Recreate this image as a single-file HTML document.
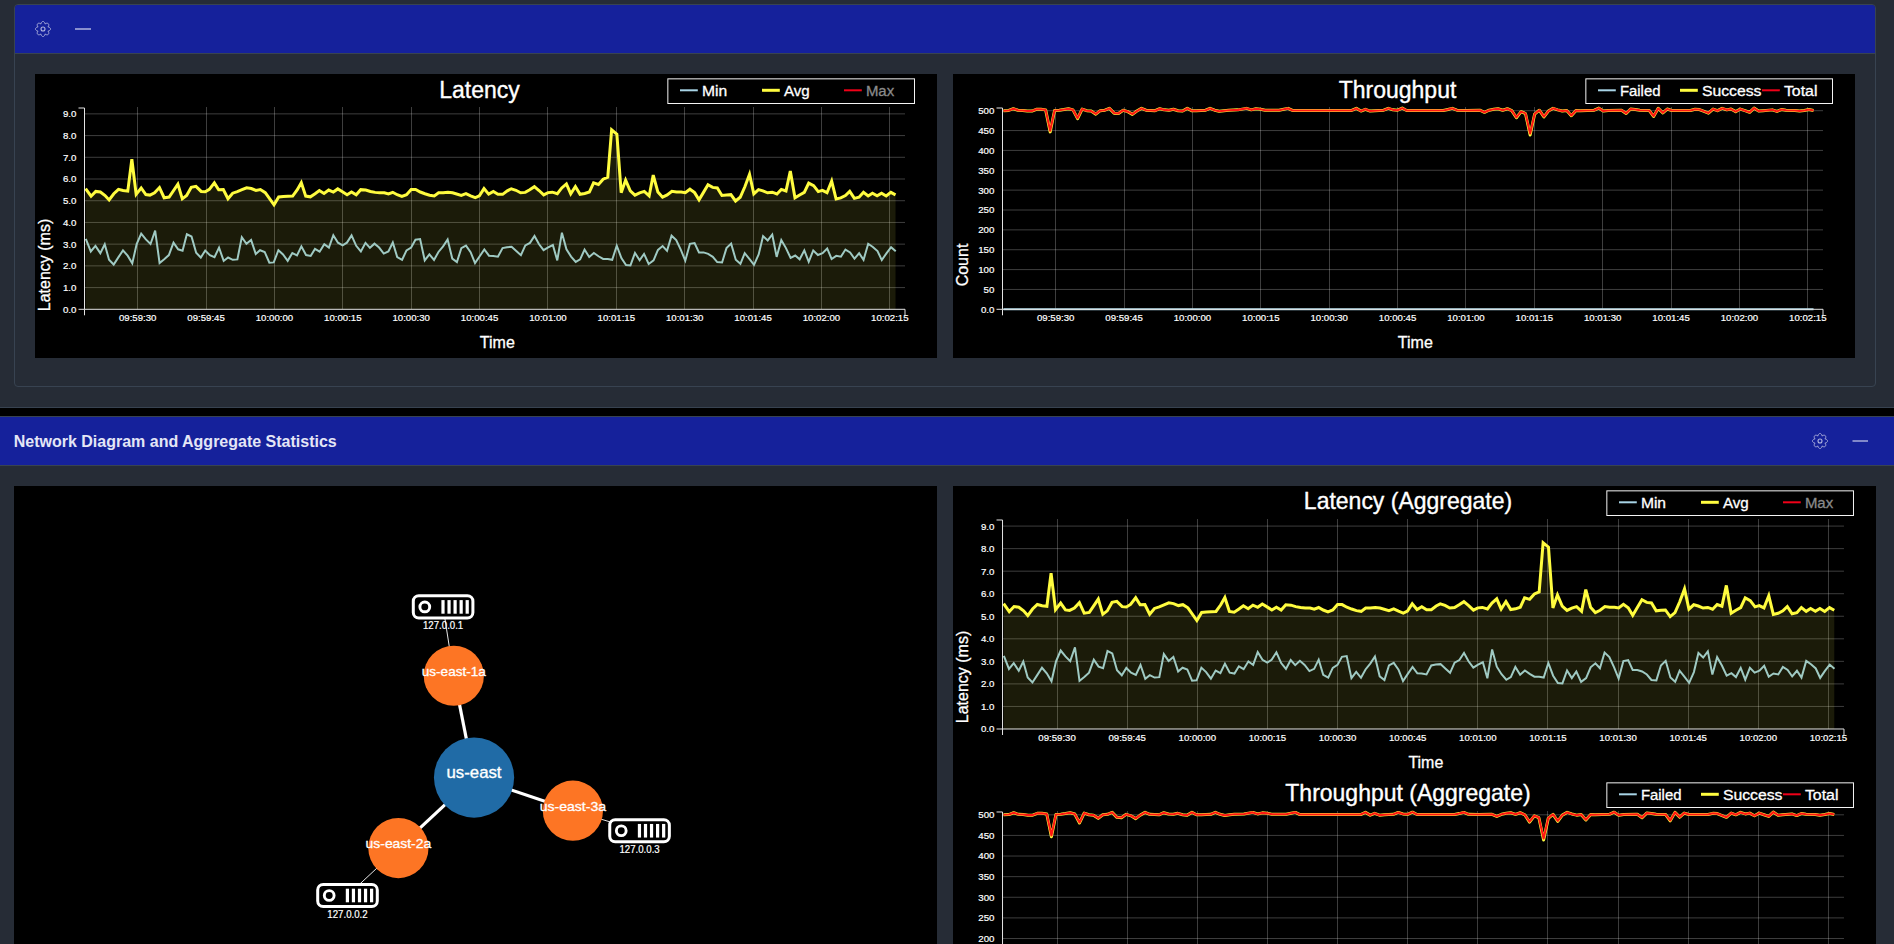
<!DOCTYPE html>
<html lang="en"><head><meta charset="utf-8"><title>Network Diagram and Aggregate Statistics</title>
<style>
html,body{margin:0;padding:0;background:#000;}
body{width:1894px;height:944px;overflow:hidden;position:relative;font-family:'Liberation Sans', Arial, Helvetica, sans-serif;color:#e6e8f7;}
.abs{position:absolute;box-sizing:border-box;}
.outer1{left:-2px;top:-2px;width:1898px;height:410px;background:#262c36;border:1px solid #384351;}
.inner{left:14px;top:4px;width:1862px;height:383px;border:1px solid #384351;border-radius:4px;background:#262c36;overflow:hidden;}
.hdr{left:0;top:0;width:100%;height:49px;background:#15219b;border-bottom:1px solid #384351;}
.hdr2{left:-2px;top:416px;width:1898px;height:50px;background:#15219b;border:1px solid #384351;}
.content2{left:-2px;top:466px;width:1898px;height:480px;background:#262c36;}
.title{left:14.7px;top:1px;height:48px;line-height:48px;font-size:16px;font-weight:bold;color:#e4e6f6;white-space:nowrap;letter-spacing:0;}
</style></head>
<body>
<div class="abs outer1"></div>
<div class="abs inner"><div class="abs hdr"><svg width="120" height="48" style="position:absolute;left:0;top:0"><path d="M28,16.5 L28.29,16.53 L28.58,16.61 L28.86,16.76 L29.12,16.95 L29.35,17.19 L29.56,17.48 L29.74,17.82 L29.89,18.19 L29.99,18.6 L30.03,19.1 L30.41,18.77 L30.77,18.56 L31.14,18.39 L31.5,18.29 L31.85,18.23 L32.2,18.23 L32.52,18.27 L32.81,18.37 L33.08,18.51 L33.3,18.7 L33.49,18.92 L33.63,19.19 L33.73,19.48 L33.77,19.8 L33.77,20.15 L33.71,20.5 L33.61,20.86 L33.44,21.23 L33.23,21.59 L32.9,21.97 L33.4,22.01 L33.81,22.11 L34.18,22.26 L34.52,22.44 L34.81,22.65 L35.05,22.88 L35.24,23.14 L35.39,23.42 L35.47,23.71 L35.5,24 L35.47,24.29 L35.39,24.58 L35.24,24.86 L35.05,25.12 L34.81,25.35 L34.52,25.56 L34.18,25.74 L33.81,25.89 L33.4,25.99 L32.9,26.03 L33.23,26.41 L33.44,26.77 L33.61,27.14 L33.71,27.5 L33.77,27.85 L33.77,28.2 L33.73,28.52 L33.63,28.81 L33.49,29.08 L33.3,29.3 L33.08,29.49 L32.81,29.63 L32.52,29.73 L32.2,29.77 L31.85,29.77 L31.5,29.71 L31.14,29.61 L30.77,29.44 L30.41,29.23 L30.03,28.9 L29.99,29.4 L29.89,29.81 L29.74,30.18 L29.56,30.52 L29.35,30.81 L29.12,31.05 L28.86,31.24 L28.58,31.39 L28.29,31.47 L28,31.5 L27.71,31.47 L27.42,31.39 L27.14,31.24 L26.88,31.05 L26.65,30.81 L26.44,30.52 L26.26,30.18 L26.11,29.81 L26.01,29.4 L25.97,28.9 L25.59,29.23 L25.23,29.44 L24.86,29.61 L24.5,29.71 L24.15,29.77 L23.8,29.77 L23.48,29.73 L23.19,29.63 L22.92,29.49 L22.7,29.3 L22.51,29.08 L22.37,28.81 L22.27,28.52 L22.23,28.2 L22.23,27.85 L22.29,27.5 L22.39,27.14 L22.56,26.77 L22.77,26.41 L23.1,26.03 L22.6,25.99 L22.19,25.89 L21.82,25.74 L21.48,25.56 L21.19,25.35 L20.95,25.12 L20.76,24.86 L20.61,24.58 L20.53,24.29 L20.5,24 L20.53,23.71 L20.61,23.42 L20.76,23.14 L20.95,22.88 L21.19,22.65 L21.48,22.44 L21.82,22.26 L22.19,22.11 L22.6,22.01 L23.1,21.97 L22.77,21.59 L22.56,21.23 L22.39,20.86 L22.29,20.5 L22.23,20.15 L22.23,19.8 L22.27,19.48 L22.37,19.19 L22.51,18.92 L22.7,18.7 L22.92,18.51 L23.19,18.37 L23.48,18.27 L23.8,18.23 L24.15,18.23 L24.5,18.29 L24.86,18.39 L25.23,18.56 L25.59,18.77 L25.97,19.1 L26.01,18.6 L26.11,18.19 L26.26,17.82 L26.44,17.48 L26.65,17.19 L26.88,16.95 L27.14,16.76 L27.42,16.61 L27.71,16.53Z" fill="none" stroke="#b1b5df" stroke-width="1" stroke-linejoin="round"/><circle cx="28" cy="24" r="2" fill="none" stroke="#b1b5df" stroke-width="1.1"/><path d="M60,24H76" stroke="#b1b5df" stroke-width="1.4"/></svg></div></div>
<div class="abs" style="left:35px;top:74px;"><svg width="902" height="284" viewBox="0 0 902 284" style="display:block;font-family:'Liberation Sans', Arial, Helvetica, sans-serif">
<rect width="902" height="284" fill="#000"/>
<path d="M49.5,213.58H870M49.5,191.87H870M49.5,170.15H870M49.5,148.44H870M49.5,126.72H870M49.5,105.01H870M49.5,83.29H870M49.5,61.58H870M49.5,39.86H870M102.5,33V235.3M171.5,33V235.3M239.5,33V235.3M307.5,33V235.3M376.5,33V235.3M444.5,33V235.3M512.5,33V235.3M581.5,33V235.3M649.5,33V235.3M718.5,33V235.3M786.5,33V235.3M854.5,33V235.3" stroke="rgba(255,255,255,0.245)" stroke-width="1" fill="none"/>
<path d="M50.59,114.53 L56.07,122.19 L60.73,117.39 L65.39,118.03 L70.05,121.52 L74.13,126.01 L78.79,119.77 L83.45,115.32 L88.11,116.51 L92.77,117.13 L96.85,85.22 L101.16,120.31 L106.17,114 L110.84,120.59 L114.91,121.1 L119.57,118.84 L124.47,113.59 L129.13,123.75 L134.14,123.04 L142.88,110.18 L147.31,124.84 L151.62,121.52 L156.28,113.37 L160.94,112.39 L166.18,117.44 L170.26,117.82 L174.34,115.35 L179.35,108.86 L183.66,115.71 L188.32,115.5 L192.98,124.76 L197.65,119.19 L202.31,117.68 L206.97,115.7 L211.63,113.79 L216.29,114.53 L220.95,116.44 L225.38,115.58 L230.27,118.61 L239.01,130.82 L243.67,123.04 L248.33,122.57 L252.99,122.34 L257.65,122.1 L262.32,115.7 L266.3,108.63 L270.73,122.1 L275.39,122.81 L280.05,119.77 L284.36,116.57 L289.02,119.49 L293.69,116.03 L298.35,118.05 L302.77,114.91 L307.44,117.68 L312.1,120.69 L316.52,118.02 L321.19,120.77 L325.73,115.64 L330.74,116.05 L335.4,117.44 L340.06,118.38 L344.72,118.84 L349.38,118.84 L353.46,119.92 L357.77,118.29 L362.2,120.71 L366.86,122.46 L371.52,120.71 L376.18,115.46 L380.61,115.46 L385.27,118.03 L389.93,119.77 L394.59,121.29 L399.26,121.98 L403.57,118.84 L408.23,118.84 L412.89,118.18 L417.55,118.84 L421.63,120.01 L426.29,121.32 L430.95,119.67 L435.61,121.87 L440.27,123.61 L444.35,121.75 L449.01,114.6 L453.67,120.17 L458.33,117.45 L462.99,120.36 L467.65,120.36 L472.32,116.86 L476.3,114.78 L480.96,116.28 L485.62,118.77 L490.29,118.38 L494.71,115.7 L499.37,112.65 L504.04,116.51 L508.7,120.86 L513.01,118.61 L517.44,118.19 L522.33,119.71 L526.76,113.95 L531.42,109.94 L535.73,119.75 L540.39,112.54 L545.05,120.3 L549.71,119.54 L554.37,118.03 L558.57,108.91 L563.46,110.43 L568.12,105.21 L572.78,103.23 L576.63,55.8 L581.87,60.13 L586.18,118.68 L590.61,106.06 L595.27,116.86 L599.93,121.12 L604.59,118.84 L609.26,117.42 L614.15,121.92 L618.23,101.07 L622.89,118.03 L627.55,123.17 L632.21,120.94 L636.87,117.34 L641.53,118.03 L646.19,118.03 L650.27,118.71 L654.93,115.21 L659.59,118.61 L664.02,125.8 L668.33,118.61 L672.99,110.75 L677.65,113.37 L682.32,113.95 L686.91,121.49 L691.57,120.94 L695.88,120.67 L700.54,126.99 L705.2,123.27 L709.86,112.78 L714.52,100.33 L718.83,119.82 L723.49,115.66 L727.92,116.86 L732.58,118.78 L737.24,118.2 L741.91,119.97 L746.33,115.37 L750.99,117.01 L755.31,96.99 L759.97,123.87 L764.63,120.94 L769.29,118.38 L773.72,109.06 L778.61,111.62 L783.27,117.62 L787.35,116.39 L792.01,118.69 L796.67,107.03 L801.1,125 L805.76,123.85 L810.42,121.52 L814.73,117.36 L819.39,124.37 L824.05,123.27 L828.48,118.3 L833.14,122.02 L837.45,119.2 L842.11,121.88 L846.54,119.2 L851.2,122.04 L855.86,118.41 L860.53,120.94 L860.53,235.3 L50.59,235.3 Z" fill="rgba(255,252,84,0.105)"/>
<path d="M50.81,164.83 L55.8,177.46 L60.45,171.92 L65.33,179.17 L69.74,170.32 L74.04,185.73 L78.69,190.53 L83.33,183.41 L87.98,176.33 L92.62,181.67 L97.27,189.39 L101.68,170.05 L106.22,159.72 L110.86,165.41 L115.51,169.98 L120.15,156.6 L124.57,188.98 L129.21,185.15 L133.86,181.09 L138.51,168.63 L143.15,175.28 L147.57,176.72 L151.86,160.24 L156.51,162.51 L161.16,178.76 L165.8,183.55 L170.22,176.51 L174.86,181.09 L179.51,183.16 L184.04,173.67 L188.69,186.95 L193.1,183.48 L197.75,185.78 L202.39,185.38 L206.81,163.15 L211.45,169.74 L216.1,165.97 L220.75,179.92 L225.04,176.26 L229.69,177.95 L234.34,188.76 L238.75,188.4 L243.4,176.21 L248.04,180.51 L252.69,186.86 L257.34,179 L261.98,181.39 L266.38,172.38 L271.03,181.09 L275.68,181.92 L279.97,174.95 L284.62,177.69 L289.27,170.15 L293.91,173.62 L298.33,161.2 L302.97,168.66 L307.62,171.39 L311.92,168.66 L316.56,161.39 L321.21,171.8 L325.86,177.37 L330.5,168.86 L334.92,173.84 L339.45,169.67 L344.09,173.54 L348.74,179.54 L353.39,177.37 L357.8,168.52 L362.21,183.06 L367.09,185.77 L371.51,176.44 L376.15,173.54 L380.45,165.76 L385.1,165.06 L389.74,186.39 L394.39,180.35 L399.04,185.97 L403.45,177.95 L408.1,172.38 L412.63,165.45 L417.27,184.57 L421.92,188.09 L426.33,174.12 L430.98,171.64 L435.62,178.18 L440.04,189.15 L444.69,182.25 L449.33,175.46 L453.98,181.67 L458.28,181.9 L462.92,182.72 L467.57,174.12 L471.98,173.19 L476.62,172.83 L481.26,177.02 L485.91,181.17 L490.32,171.45 L494.97,168.89 L499.5,162.05 L503.91,170.05 L508.56,176.22 L513.21,173.31 L517.85,171.02 L522.27,186.41 L526.91,158.69 L531.44,175.28 L536.09,182.6 L540.73,187.89 L545.15,185.38 L549.56,175.57 L554.21,183.03 L558.86,178.92 L563.5,182.25 L568.15,184.92 L572.79,184.92 L577.21,185.76 L581.74,171.69 L586.38,183.99 L591.03,190.96 L595.44,191.4 L599.98,178.94 L604.62,186.29 L609.04,179.89 L613.68,189.96 L618.56,186.31 L622.97,175.86 L627.62,172.03 L632.03,176.82 L636.56,161.67 L641.21,165.99 L645.86,175.86 L650.27,186.7 L654.92,169.82 L659.56,169.03 L663.98,178.42 L668.51,178.42 L673.15,179.92 L677.8,182.83 L682.21,188.05 L687.07,188.48 L691.48,174.12 L696.13,169.61 L700.78,185.73 L705.42,189.84 L709.72,179.16 L714.37,184.92 L719.01,190.83 L723.66,180.51 L728.07,162.1 L732.72,166.47 L737.25,160.51 L741.66,182.93 L746.31,166.09 L750.96,174.12 L755.6,183.93 L760.25,181.52 L764.66,185.3 L769.31,176.41 L773.72,187.83 L778.25,176.46 L782.9,181 L787.55,179.11 L792.19,174.47 L796.61,184.98 L801.25,181.88 L805.9,182.74 L810.43,175.54 L815.08,178.42 L819.49,184.7 L824.14,179.24 L828.55,185.82 L833.2,169.76 L837.84,172.96 L842.49,177.02 L846.79,186.12 L851.43,179.34 L856.08,173.26 L860.73,177.25" fill="none" stroke="#9fcac3" stroke-width="2" stroke-linejoin="miter" stroke-miterlimit="4"/>
<path d="M50.59,114.53 L56.07,122.19 L60.73,117.39 L65.39,118.03 L70.05,121.52 L74.13,126.01 L78.79,119.77 L83.45,115.32 L88.11,116.51 L92.77,117.13 L96.85,85.22 L101.16,120.31 L106.17,114 L110.84,120.59 L114.91,121.1 L119.57,118.84 L124.47,113.59 L129.13,123.75 L134.14,123.04 L142.88,110.18 L147.31,124.84 L151.62,121.52 L156.28,113.37 L160.94,112.39 L166.18,117.44 L170.26,117.82 L174.34,115.35 L179.35,108.86 L183.66,115.71 L188.32,115.5 L192.98,124.76 L197.65,119.19 L202.31,117.68 L206.97,115.7 L211.63,113.79 L216.29,114.53 L220.95,116.44 L225.38,115.58 L230.27,118.61 L239.01,130.82 L243.67,123.04 L248.33,122.57 L252.99,122.34 L257.65,122.1 L262.32,115.7 L266.3,108.63 L270.73,122.1 L275.39,122.81 L280.05,119.77 L284.36,116.57 L289.02,119.49 L293.69,116.03 L298.35,118.05 L302.77,114.91 L307.44,117.68 L312.1,120.69 L316.52,118.02 L321.19,120.77 L325.73,115.64 L330.74,116.05 L335.4,117.44 L340.06,118.38 L344.72,118.84 L349.38,118.84 L353.46,119.92 L357.77,118.29 L362.2,120.71 L366.86,122.46 L371.52,120.71 L376.18,115.46 L380.61,115.46 L385.27,118.03 L389.93,119.77 L394.59,121.29 L399.26,121.98 L403.57,118.84 L408.23,118.84 L412.89,118.18 L417.55,118.84 L421.63,120.01 L426.29,121.32 L430.95,119.67 L435.61,121.87 L440.27,123.61 L444.35,121.75 L449.01,114.6 L453.67,120.17 L458.33,117.45 L462.99,120.36 L467.65,120.36 L472.32,116.86 L476.3,114.78 L480.96,116.28 L485.62,118.77 L490.29,118.38 L494.71,115.7 L499.37,112.65 L504.04,116.51 L508.7,120.86 L513.01,118.61 L517.44,118.19 L522.33,119.71 L526.76,113.95 L531.42,109.94 L535.73,119.75 L540.39,112.54 L545.05,120.3 L549.71,119.54 L554.37,118.03 L558.57,108.91 L563.46,110.43 L568.12,105.21 L572.78,103.23 L576.63,55.8 L581.87,60.13 L586.18,118.68 L590.61,106.06 L595.27,116.86 L599.93,121.12 L604.59,118.84 L609.26,117.42 L614.15,121.92 L618.23,101.07 L622.89,118.03 L627.55,123.17 L632.21,120.94 L636.87,117.34 L641.53,118.03 L646.19,118.03 L650.27,118.71 L654.93,115.21 L659.59,118.61 L664.02,125.8 L668.33,118.61 L672.99,110.75 L677.65,113.37 L682.32,113.95 L686.91,121.49 L691.57,120.94 L695.88,120.67 L700.54,126.99 L705.2,123.27 L709.86,112.78 L714.52,100.33 L718.83,119.82 L723.49,115.66 L727.92,116.86 L732.58,118.78 L737.24,118.2 L741.91,119.97 L746.33,115.37 L750.99,117.01 L755.31,96.99 L759.97,123.87 L764.63,120.94 L769.29,118.38 L773.72,109.06 L778.61,111.62 L783.27,117.62 L787.35,116.39 L792.01,118.69 L796.67,107.03 L801.1,125 L805.76,123.85 L810.42,121.52 L814.73,117.36 L819.39,124.37 L824.05,123.27 L828.48,118.3 L833.14,122.02 L837.45,119.2 L842.11,121.88 L846.54,119.2 L851.2,122.04 L855.86,118.41 L860.53,120.94" fill="none" stroke="#fffc3f" stroke-width="3" stroke-linejoin="miter" stroke-miterlimit="4"/>
<path d="M43.5,34H49.5V235.3H43.5" stroke="#e4e4e4" stroke-width="1" fill="none"/>
<path d="M49.5,241.3V235.3H870V241.3" stroke="#e4e4e4" stroke-width="1" fill="none"/>
<g fill="#fff" font-size="9.7" text-anchor="end" stroke="#fff" stroke-width="0.2">
<text x="41.4" y="238.75">0.0</text>
<text x="41.4" y="217.03">1.0</text>
<text x="41.4" y="195.32">2.0</text>
<text x="41.4" y="173.6">3.0</text>
<text x="41.4" y="151.89">4.0</text>
<text x="41.4" y="130.17">5.0</text>
<text x="41.4" y="108.46">6.0</text>
<text x="41.4" y="86.74">7.0</text>
<text x="41.4" y="65.03">8.0</text>
<text x="41.4" y="43.31">9.0</text>
</g>
<g fill="#fff" font-size="9.65" text-anchor="middle" stroke="#fff" stroke-width="0.2">
<text x="102.7" y="246.9">09:59:30</text>
<text x="171.07" y="246.9">09:59:45</text>
<text x="239.45" y="246.9">10:00:00</text>
<text x="307.82" y="246.9">10:00:15</text>
<text x="376.2" y="246.9">10:00:30</text>
<text x="444.57" y="246.9">10:00:45</text>
<text x="512.95" y="246.9">10:01:00</text>
<text x="581.32" y="246.9">10:01:15</text>
<text x="649.7" y="246.9">10:01:30</text>
<text x="718.07" y="246.9">10:01:45</text>
<text x="786.45" y="246.9">10:02:00</text>
<text x="854.82" y="246.9">10:02:15</text>
</g>
<text x="462.35" y="273.9" fill="#fff" stroke="#fff" stroke-width="0.3" font-size="16" text-anchor="middle">Time</text>
<text transform="translate(15,191) rotate(-90)" fill="#fff" stroke="#fff" stroke-width="0.3" font-size="16" text-anchor="middle">Latency (ms)</text>
<text x="444.5" y="23.5" fill="#fff" stroke="#fff" stroke-width="0.35" font-size="23" text-anchor="middle">Latency</text>
<rect x="632.85" y="4.85" width="246.65" height="24.65" fill="#000" stroke="#f4f4f4" stroke-width="1"/>
<path d="M645,16.3H662.8" stroke="#a8d4e6" stroke-width="2"/>
<text x="666.9" y="21.8" fill="#fff" stroke="#fff" stroke-width="0.3" font-size="15.2" textLength="25.2" lengthAdjust="spacingAndGlyphs">Min</text>
<path d="M727,16.3H744.8" stroke="#fffc3f" stroke-width="3"/>
<text x="748.9" y="21.8" fill="#fff" stroke="#fff" stroke-width="0.3" font-size="15.2" textLength="25.8" lengthAdjust="spacingAndGlyphs">Avg</text>
<path d="M809,16.3H826.8" stroke="#f00018" stroke-width="2"/>
<text x="830.9" y="21.8" fill="#8a8a8a" stroke="#8a8a8a" stroke-width="0.3" font-size="15.2" textLength="28.3" lengthAdjust="spacingAndGlyphs">Max</text>
</svg></div>
<div class="abs" style="left:953px;top:74px;"><svg width="902" height="284" viewBox="0 0 902 284" style="display:block;font-family:'Liberation Sans', Arial, Helvetica, sans-serif">
<rect width="902" height="284" fill="#000"/>
<path d="M49.5,215.44H870M49.5,195.58H870M49.5,175.72H870M49.5,155.86H870M49.5,136H870M49.5,116.14H870M49.5,96.28H870M49.5,76.42H870M49.5,56.56H870M49.5,36.7H870M102.5,33V235.3M171.5,33V235.3M239.5,33V235.3M307.5,33V235.3M376.5,33V235.3M444.5,33V235.3M512.5,33V235.3M581.5,33V235.3M649.5,33V235.3M718.5,33V235.3M786.5,33V235.3M854.5,33V235.3" stroke="rgba(255,255,255,0.245)" stroke-width="1" fill="none"/>
<path d="M50.48,235.3 L860.53,235.3" fill="none" stroke="#a8d4e6" stroke-width="2" stroke-linejoin="miter" stroke-miterlimit="4"/>
<path d="M50.48,36.69 L55.71,36.46 L60.36,34.71 L65,36.22 L69.65,36.46 L74.3,37.06 L78.94,37.06 L83.36,35.29 L88,35.29 L92.65,35.87 L97.18,57.88 L101.59,36.46 L106.24,36.22 L110.89,35.53 L115.53,34.71 L119.95,35.87 L124.59,44.57 L129.12,35.06 L133.77,36.69 L138.18,37.06 L142.83,40.14 L147.24,36.69 L151.89,36.22 L156.42,34.36 L161.07,39.15 L165.48,39.52 L170.13,36.22 L174.77,37.67 L179.42,40.38 L183.83,37.06 L188.48,34.36 L193.01,36.22 L197.66,36.46 L202.07,36.69 L206.72,34.71 L211.36,35.87 L216.01,36.22 L220.42,35.29 L225.07,36.69 L229.6,37.06 L234.25,34.36 L238.66,36.69 L243.31,36.69 L247.95,36.46 L252.6,36.22 L257.01,34.36 L261.66,36.22 L266.29,37.3 L270.94,36.69 L275.59,36.22 L284.88,35.87 L293.59,34.36 L298.24,35.87 L302.88,34.83 L307.53,35.29 L312.17,36.22 L326.11,36.22 L330.76,35.29 L335.06,34.36 L339.47,36.46 L398.71,36.46 L403.36,34.36 L408,37.06 L412.42,35.29 L417.07,37.06 L421.71,36.69 L430.66,36.22 L435.3,34.36 L439.95,35.87 L444.59,36.22 L449.24,34.13 L453.65,36.46 L490.23,36.46 L494.88,35.53 L499.29,34.36 L503.94,36.22 L513.46,36.46 L526.82,36.22 L531.47,38.29 L536.11,36.22 L540.76,35.29 L545.06,34.71 L549.7,36.22 L554.35,34.71 L558.76,36.69 L563.41,43.71 L568.06,37.67 L572.47,39.52 L577.12,60.95 L581.65,40.14 L586.29,36.22 L590.94,42.97 L595.35,37.06 L600,34.36 L604.65,35.87 L609.29,37.06 L613.71,36.46 L618.35,41.74 L623,36.46 L627.3,36.69 L641.24,36.22 L645.88,34.13 L650.3,37.06 L655.18,36.46 L668.53,36.22 L673.18,39.52 L677.59,35.06 L682.24,35.53 L686.87,36.22 L696.17,36.46 L700.58,42.48 L705.23,34.36 L709.87,38.9 L714.17,35.06 L718.82,36.46 L737.4,36.46 L742.05,35.29 L746.46,35.53 L751.11,37.43 L755.41,39.15 L760.05,35.06 L764.47,36.69 L769.11,34.36 L773.76,35.87 L778.06,35.06 L782.7,37.67 L787.35,35.06 L792,36.69 L796.64,38.29 L801.06,34.13 L805.7,37.06 L810,36.69 L819.29,35.87 L823.94,37.43 L828.35,35.53 L833,36.22 L841.94,36.46 L846.59,37.06 L851.24,36.46 L855.88,35.53 L860.53,36.46" fill="none" stroke="#fffc3f" stroke-width="3" stroke-linejoin="round" stroke-miterlimit="4"/>
<path d="M50.48,36.69 L55.71,36.46 L60.36,34.71 L65,36.22 L69.65,36.46 L74.3,37.04 L78.94,37.04 L83.36,35.29 L88,35.29 L92.65,35.87 L97.18,56.68 L101.59,36.46 L106.24,36.22 L110.89,35.53 L115.53,34.71 L119.95,35.87 L124.59,44.13 L129.12,35.06 L133.77,36.69 L138.18,37.04 L142.83,39.94 L147.24,36.69 L151.89,36.22 L156.42,34.36 L161.07,39.01 L165.48,39.36 L170.13,36.22 L174.77,37.62 L179.42,40.17 L183.83,37.04 L188.48,34.36 L193.01,36.22 L197.66,36.46 L202.07,36.69 L206.72,34.71 L211.36,35.87 L216.01,36.22 L220.42,35.29 L225.07,36.69 L229.6,37.04 L234.25,34.36 L238.66,36.69 L243.31,36.69 L247.95,36.46 L252.6,36.22 L257.01,34.36 L261.66,36.22 L266.29,37.27 L270.94,36.69 L275.59,36.22 L284.88,35.87 L293.59,34.36 L298.24,35.87 L302.88,34.83 L307.53,35.29 L312.17,36.22 L326.11,36.22 L330.76,35.29 L335.06,34.36 L339.47,36.46 L398.71,36.46 L403.36,34.36 L408,37.04 L412.42,35.29 L417.07,37.04 L421.71,36.69 L430.66,36.22 L435.3,34.36 L439.95,35.87 L444.59,36.22 L449.24,34.13 L453.65,36.46 L490.23,36.46 L494.88,35.53 L499.29,34.36 L503.94,36.22 L513.46,36.46 L526.82,36.22 L531.47,38.2 L536.11,36.22 L540.76,35.29 L545.06,34.71 L549.7,36.22 L554.35,34.71 L558.76,36.69 L563.41,43.31 L568.06,37.62 L572.47,39.36 L577.12,59.58 L581.65,39.94 L586.29,36.22 L590.94,42.61 L595.35,37.04 L600,34.36 L604.65,35.87 L609.29,37.04 L613.71,36.46 L618.35,41.45 L623,36.46 L627.3,36.69 L641.24,36.22 L645.88,34.13 L650.3,37.04 L655.18,36.46 L668.53,36.22 L673.18,39.36 L677.59,35.06 L682.24,35.53 L686.87,36.22 L696.17,36.46 L700.58,42.15 L705.23,34.36 L709.87,38.78 L714.17,35.06 L718.82,36.46 L737.4,36.46 L742.05,35.29 L746.46,35.53 L751.11,37.38 L755.41,39.01 L760.05,35.06 L764.47,36.69 L769.11,34.36 L773.76,35.87 L778.06,35.06 L782.7,37.62 L787.35,35.06 L792,36.69 L796.64,38.2 L801.06,34.13 L805.7,37.04 L810,36.69 L819.29,35.87 L823.94,37.38 L828.35,35.53 L833,36.22 L841.94,36.46 L846.59,37.04 L851.24,36.46 L855.88,35.53 L860.53,36.46" fill="none" stroke="#ff1712" stroke-width="2.1" stroke-linejoin="round" stroke-miterlimit="4"/>
<path d="M43.5,34H49.5V235.3H43.5" stroke="#e4e4e4" stroke-width="1" fill="none"/>
<path d="M49.5,241.3V235.3H870V241.3" stroke="#e4e4e4" stroke-width="1" fill="none"/>
<g fill="#fff" font-size="9.7" text-anchor="end" stroke="#fff" stroke-width="0.2">
<text x="41.4" y="238.75">0.0</text>
<text x="41.4" y="218.89">50</text>
<text x="41.4" y="199.03">100</text>
<text x="41.4" y="179.17">150</text>
<text x="41.4" y="159.31">200</text>
<text x="41.4" y="139.45">250</text>
<text x="41.4" y="119.59">300</text>
<text x="41.4" y="99.73">350</text>
<text x="41.4" y="79.87">400</text>
<text x="41.4" y="60.01">450</text>
<text x="41.4" y="40.15">500</text>
</g>
<g fill="#fff" font-size="9.65" text-anchor="middle" stroke="#fff" stroke-width="0.2">
<text x="102.7" y="246.9">09:59:30</text>
<text x="171.07" y="246.9">09:59:45</text>
<text x="239.45" y="246.9">10:00:00</text>
<text x="307.82" y="246.9">10:00:15</text>
<text x="376.2" y="246.9">10:00:30</text>
<text x="444.57" y="246.9">10:00:45</text>
<text x="512.95" y="246.9">10:01:00</text>
<text x="581.32" y="246.9">10:01:15</text>
<text x="649.7" y="246.9">10:01:30</text>
<text x="718.07" y="246.9">10:01:45</text>
<text x="786.45" y="246.9">10:02:00</text>
<text x="854.82" y="246.9">10:02:15</text>
</g>
<text x="462.35" y="273.9" fill="#fff" stroke="#fff" stroke-width="0.3" font-size="16" text-anchor="middle">Time</text>
<text transform="translate(15,191) rotate(-90)" fill="#fff" stroke="#fff" stroke-width="0.3" font-size="16" text-anchor="middle">Count</text>
<text x="444.5" y="23.5" fill="#fff" stroke="#fff" stroke-width="0.35" font-size="23" text-anchor="middle">Throughput</text>
<rect x="632.85" y="4.85" width="246.65" height="24.65" fill="#000" stroke="#f4f4f4" stroke-width="1"/>
<path d="M645,16.3H662.8" stroke="#a8d4e6" stroke-width="2"/>
<text x="666.9" y="21.8" fill="#fff" stroke="#fff" stroke-width="0.3" font-size="15.2" textLength="40.6" lengthAdjust="spacingAndGlyphs">Failed</text>
<path d="M727,16.3H744.8" stroke="#fffc3f" stroke-width="3"/>
<text x="748.9" y="21.8" fill="#fff" stroke="#fff" stroke-width="0.3" font-size="15.2" textLength="59.6" lengthAdjust="spacingAndGlyphs">Success</text>
<path d="M809,16.3H826.8" stroke="#f00018" stroke-width="2"/>
<text x="830.9" y="21.8" fill="#fff" stroke="#fff" stroke-width="0.3" font-size="15.2" textLength="33.6" lengthAdjust="spacingAndGlyphs">Total</text>
</svg></div>
<div class="abs hdr2"><div class="abs title" id="ptitle">Network Diagram and Aggregate Statistics</div><svg width="120" height="48" style="position:absolute;left:1791px;top:0"><path d="M30,16.5 L30.29,16.53 L30.58,16.61 L30.86,16.76 L31.12,16.95 L31.35,17.19 L31.56,17.48 L31.74,17.82 L31.89,18.19 L31.99,18.6 L32.03,19.1 L32.41,18.77 L32.77,18.56 L33.14,18.39 L33.5,18.29 L33.85,18.23 L34.2,18.23 L34.52,18.27 L34.81,18.37 L35.08,18.51 L35.3,18.7 L35.49,18.92 L35.63,19.19 L35.73,19.48 L35.77,19.8 L35.77,20.15 L35.71,20.5 L35.61,20.86 L35.44,21.23 L35.23,21.59 L34.9,21.97 L35.4,22.01 L35.81,22.11 L36.18,22.26 L36.52,22.44 L36.81,22.65 L37.05,22.88 L37.24,23.14 L37.39,23.42 L37.47,23.71 L37.5,24 L37.47,24.29 L37.39,24.58 L37.24,24.86 L37.05,25.12 L36.81,25.35 L36.52,25.56 L36.18,25.74 L35.81,25.89 L35.4,25.99 L34.9,26.03 L35.23,26.41 L35.44,26.77 L35.61,27.14 L35.71,27.5 L35.77,27.85 L35.77,28.2 L35.73,28.52 L35.63,28.81 L35.49,29.08 L35.3,29.3 L35.08,29.49 L34.81,29.63 L34.52,29.73 L34.2,29.77 L33.85,29.77 L33.5,29.71 L33.14,29.61 L32.77,29.44 L32.41,29.23 L32.03,28.9 L31.99,29.4 L31.89,29.81 L31.74,30.18 L31.56,30.52 L31.35,30.81 L31.12,31.05 L30.86,31.24 L30.58,31.39 L30.29,31.47 L30,31.5 L29.71,31.47 L29.42,31.39 L29.14,31.24 L28.88,31.05 L28.65,30.81 L28.44,30.52 L28.26,30.18 L28.11,29.81 L28.01,29.4 L27.97,28.9 L27.59,29.23 L27.23,29.44 L26.86,29.61 L26.5,29.71 L26.15,29.77 L25.8,29.77 L25.48,29.73 L25.19,29.63 L24.92,29.49 L24.7,29.3 L24.51,29.08 L24.37,28.81 L24.27,28.52 L24.23,28.2 L24.23,27.85 L24.29,27.5 L24.39,27.14 L24.56,26.77 L24.77,26.41 L25.1,26.03 L24.6,25.99 L24.19,25.89 L23.82,25.74 L23.48,25.56 L23.19,25.35 L22.95,25.12 L22.76,24.86 L22.61,24.58 L22.53,24.29 L22.5,24 L22.53,23.71 L22.61,23.42 L22.76,23.14 L22.95,22.88 L23.19,22.65 L23.48,22.44 L23.82,22.26 L24.19,22.11 L24.6,22.01 L25.1,21.97 L24.77,21.59 L24.56,21.23 L24.39,20.86 L24.29,20.5 L24.23,20.15 L24.23,19.8 L24.27,19.48 L24.37,19.19 L24.51,18.92 L24.7,18.7 L24.92,18.51 L25.19,18.37 L25.48,18.27 L25.8,18.23 L26.15,18.23 L26.5,18.29 L26.86,18.39 L27.23,18.56 L27.59,18.77 L27.97,19.1 L28.01,18.6 L28.11,18.19 L28.26,17.82 L28.44,17.48 L28.65,17.19 L28.88,16.95 L29.14,16.76 L29.42,16.61 L29.71,16.53Z" fill="none" stroke="#b1b5df" stroke-width="1" stroke-linejoin="round"/><circle cx="30" cy="24" r="2" fill="none" stroke="#b1b5df" stroke-width="1.1"/><path d="M62.5,24H78" stroke="#b1b5df" stroke-width="1.4"/></svg></div>
<div class="abs content2"></div>
<div class="abs" style="left:14px;top:486px;width:923px;height:458px;overflow:hidden;background:#000"><svg width="923" height="460" viewBox="0 0 923 460" style="display:block;font-family:'Liberation Sans', Arial, Helvetica, sans-serif">
<rect width="923" height="460" fill="#000"/>
<line x1="439.8" y1="189.75" x2="429.1" y2="120.9" stroke="#e8e8e8" stroke-width="1"/>
<line x1="384.4" y1="362.05" x2="333.5" y2="409.5" stroke="#e8e8e8" stroke-width="1"/>
<line x1="558.9" y1="324.7" x2="625.55" y2="344.75" stroke="#e8e8e8" stroke-width="1"/>
<line x1="460.05" y1="291.55" x2="439.8" y2="189.75" stroke="#fff" stroke-width="3.2"/>
<line x1="460.05" y1="291.55" x2="384.4" y2="362.05" stroke="#fff" stroke-width="3.2"/>
<line x1="460.05" y1="291.55" x2="558.9" y2="324.7" stroke="#fff" stroke-width="3.2"/>
<g transform="translate(429.1,120.9)"><rect x="-29.8" y="-11.1" width="59.6" height="22.2" rx="5.5" ry="5.5" fill="#000" stroke="#fff" stroke-width="3"/><circle cx="-18.3" cy="0" r="4.9" fill="none" stroke="#fff" stroke-width="2.9"/><rect x="-1.7" y="-6.8" width="3.2" height="13.6" fill="#fff"/><rect x="4.35" y="-6.8" width="3.2" height="13.6" fill="#fff"/><rect x="10.4" y="-6.8" width="3.2" height="13.6" fill="#fff"/><rect x="16.45" y="-6.8" width="3.2" height="13.6" fill="#fff"/><rect x="22.5" y="-6.8" width="3.2" height="13.6" fill="#fff"/><text x="0" y="22.1" fill="#fff" stroke="#fff" stroke-width="0.2" font-size="10" text-anchor="middle" textLength="40.3" lengthAdjust="spacingAndGlyphs">127.0.0.1</text></g>
<g transform="translate(333.5,409.5)"><rect x="-29.8" y="-11.1" width="59.6" height="22.2" rx="5.5" ry="5.5" fill="#000" stroke="#fff" stroke-width="3"/><circle cx="-18.3" cy="0" r="4.9" fill="none" stroke="#fff" stroke-width="2.9"/><rect x="-1.7" y="-6.8" width="3.2" height="13.6" fill="#fff"/><rect x="4.35" y="-6.8" width="3.2" height="13.6" fill="#fff"/><rect x="10.4" y="-6.8" width="3.2" height="13.6" fill="#fff"/><rect x="16.45" y="-6.8" width="3.2" height="13.6" fill="#fff"/><rect x="22.5" y="-6.8" width="3.2" height="13.6" fill="#fff"/><text x="0" y="22.1" fill="#fff" stroke="#fff" stroke-width="0.2" font-size="10" text-anchor="middle" textLength="40.3" lengthAdjust="spacingAndGlyphs">127.0.0.2</text></g>
<g transform="translate(625.55,344.75)"><rect x="-29.8" y="-11.1" width="59.6" height="22.2" rx="5.5" ry="5.5" fill="#000" stroke="#fff" stroke-width="3"/><circle cx="-18.3" cy="0" r="4.9" fill="none" stroke="#fff" stroke-width="2.9"/><rect x="-1.7" y="-6.8" width="3.2" height="13.6" fill="#fff"/><rect x="4.35" y="-6.8" width="3.2" height="13.6" fill="#fff"/><rect x="10.4" y="-6.8" width="3.2" height="13.6" fill="#fff"/><rect x="16.45" y="-6.8" width="3.2" height="13.6" fill="#fff"/><rect x="22.5" y="-6.8" width="3.2" height="13.6" fill="#fff"/><text x="0" y="22.1" fill="#fff" stroke="#fff" stroke-width="0.2" font-size="10" text-anchor="middle" textLength="40.3" lengthAdjust="spacingAndGlyphs">127.0.0.3</text></g>
<circle cx="439.8" cy="189.75" r="30.1" fill="#fd7524"/>
<text x="439.8" y="189.75" fill="#fff" stroke="#fff" stroke-width="0.3" font-size="12.4" text-anchor="middle" textLength="64" lengthAdjust="spacingAndGlyphs">us-east-1a</text>
<circle cx="384.4" cy="362.05" r="30.1" fill="#fd7524"/>
<text x="384.4" y="362.05" fill="#fff" stroke="#fff" stroke-width="0.3" font-size="12.4" text-anchor="middle" textLength="65.6" lengthAdjust="spacingAndGlyphs">us-east-2a</text>
<circle cx="558.9" cy="324.7" r="30.1" fill="#fd7524"/>
<text x="558.9" y="324.7" fill="#fff" stroke="#fff" stroke-width="0.3" font-size="12.4" text-anchor="middle" textLength="66.4" lengthAdjust="spacingAndGlyphs">us-east-3a</text>
<circle cx="460.05" cy="291.55" r="40.1" fill="#206ba6"/>
<text x="460.05" y="291.95" fill="#fff" stroke="#fff" stroke-width="0.35" font-size="16.3" text-anchor="middle" textLength="55" lengthAdjust="spacingAndGlyphs">us-east</text>
</svg></div>
<div class="abs" style="left:953px;top:486px;width:923px;height:458px;overflow:hidden;background:#000">
<div class="abs" style="left:0;top:0"><svg width="923" height="291.7" viewBox="0 0 923 291.7" style="display:block;font-family:'Liberation Sans', Arial, Helvetica, sans-serif">
<rect width="923" height="291.7" fill="#000"/>
<path d="M49.5,220.45H891M49.5,197.91H891M49.5,175.36H891M49.5,152.82H891M49.5,130.27H891M49.5,107.72H891M49.5,85.18H891M49.5,62.63H891M49.5,40.09H891M104.5,33V243M174.5,33V243M244.5,33V243M314.5,33V243M384.5,33V243M454.5,33V243M524.5,33V243M594.5,33V243M665.5,33V243M735.5,33V243M805.5,33V243M875.5,33V243" stroke="rgba(255,255,255,0.245)" stroke-width="1" fill="none"/>
<path d="M50.62,117.61 L56.24,125.56 L61.02,120.58 L65.8,121.24 L70.58,124.87 L74.76,129.53 L79.54,123.05 L84.32,118.43 L89.1,119.67 L93.88,120.3 L98.06,87.18 L102.49,123.61 L107.63,117.06 L112.41,123.9 L116.59,124.43 L121.37,122.09 L126.39,116.63 L131.17,127.18 L136.31,126.44 L145.27,113.09 L149.81,128.32 L154.23,124.87 L159.01,116.4 L163.79,115.39 L169.17,120.64 L173.35,121.03 L177.54,118.46 L182.67,111.73 L187.1,118.83 L191.88,118.61 L196.66,128.24 L201.44,122.45 L206.22,120.88 L211,118.82 L215.78,116.84 L220.56,117.61 L225.34,119.59 L229.88,118.7 L234.9,121.85 L243.86,134.52 L248.64,126.44 L253.42,125.96 L258.2,125.72 L262.98,125.47 L267.76,118.82 L271.85,111.48 L276.39,125.47 L281.17,126.21 L285.95,123.05 L290.37,119.73 L295.16,122.76 L299.94,119.17 L304.72,121.27 L309.26,118.01 L314.04,120.88 L318.82,124.01 L323.36,121.24 L328.14,124.09 L332.8,118.76 L337.94,119.18 L342.72,120.64 L347.5,121.6 L352.28,122.09 L357.06,122.09 L361.24,123.21 L365.66,121.52 L370.2,124.02 L374.98,125.85 L379.76,124.02 L384.55,118.58 L389.09,118.58 L393.87,121.24 L398.65,123.05 L403.43,124.63 L408.21,125.35 L412.63,122.09 L417.41,122.09 L422.19,121.4 L426.97,122.09 L431.15,123.3 L435.93,124.66 L440.71,122.94 L445.49,125.23 L450.27,127.04 L454.46,125.11 L459.24,117.69 L464.02,123.47 L468.8,120.64 L473.58,123.66 L478.36,123.66 L483.14,120.03 L487.23,117.87 L492.01,119.43 L496.79,122.01 L501.57,121.6 L506.11,118.82 L510.89,115.66 L515.67,119.67 L520.45,124.19 L524.87,121.85 L529.41,121.41 L534.43,122.99 L538.97,117.01 L543.75,112.85 L548.17,123.03 L552.95,115.54 L557.73,123.6 L562.51,122.81 L567.29,121.24 L571.6,111.78 L576.62,113.35 L581.4,107.94 L586.18,105.88 L590.12,56.64 L595.5,61.13 L599.92,121.92 L604.46,108.82 L609.24,120.03 L614.02,124.45 L618.8,122.09 L623.58,120.62 L628.6,125.28 L632.78,103.63 L637.56,121.24 L642.34,126.58 L647.12,124.26 L651.9,120.53 L656.68,121.24 L661.47,121.24 L665.65,121.95 L670.43,118.32 L675.21,121.85 L679.75,129.31 L684.17,121.85 L688.95,113.68 L693.73,116.4 L698.51,117.01 L703.22,124.84 L708,124.26 L712.42,123.99 L717.2,130.55 L721.98,126.68 L726.76,115.8 L731.54,102.87 L735.96,123.1 L740.74,118.78 L745.29,120.03 L750.07,122.02 L754.85,121.42 L759.63,123.26 L764.17,118.49 L768.95,120.18 L773.37,99.4 L778.15,127.3 L782.93,124.26 L787.71,121.6 L792.25,111.93 L797.27,114.59 L802.05,120.82 L806.23,119.55 L811.01,121.93 L815.79,109.82 L820.34,128.48 L825.12,127.29 L829.9,124.87 L834.32,120.55 L839.1,127.83 L843.88,126.68 L848.42,121.52 L853.2,125.38 L857.62,122.46 L862.4,125.24 L866.94,122.46 L871.72,125.41 L876.5,121.64 L881.28,124.26 L881.28,243 L50.62,243 Z" fill="rgba(255,252,84,0.105)"/>
<path d="M50.84,169.83 L55.96,182.95 L60.73,177.2 L65.73,184.73 L70.26,175.54 L74.67,191.54 L79.43,196.52 L84.2,189.12 L88.96,181.78 L93.73,187.32 L98.49,195.33 L103.02,175.26 L107.67,164.52 L112.43,170.44 L117.2,175.18 L121.96,161.29 L126.49,194.91 L131.25,190.93 L136.02,186.71 L140.78,173.78 L145.55,180.68 L150.08,182.18 L154.48,165.07 L159.25,167.42 L164.02,184.3 L168.78,189.27 L173.31,181.97 L178.07,186.71 L182.84,188.86 L187.48,179.01 L192.25,192.8 L196.78,189.2 L201.54,191.59 L206.31,191.17 L210.83,168.09 L215.6,174.94 L220.36,171.02 L225.13,185.5 L229.54,181.7 L234.3,183.46 L239.07,194.68 L243.59,194.31 L248.36,181.65 L253.12,186.11 L257.89,192.71 L262.66,184.54 L267.42,187.03 L271.93,177.67 L276.7,186.71 L281.46,187.58 L285.87,180.35 L290.64,183.19 L295.4,175.35 L300.17,178.96 L304.7,166.07 L309.46,173.81 L314.23,176.64 L318.63,173.81 L323.4,166.26 L328.16,177.07 L332.93,182.86 L337.69,174.01 L342.22,179.19 L346.87,174.86 L351.63,178.88 L356.4,185.11 L361.16,182.85 L365.69,173.66 L370.22,188.76 L375.22,191.58 L379.75,181.89 L384.51,178.88 L388.92,170.8 L393.69,170.07 L398.45,192.22 L403.22,185.95 L407.98,191.78 L412.51,183.46 L417.27,177.67 L421.92,170.48 L426.68,190.33 L431.45,193.99 L435.98,179.48 L440.74,176.91 L445.51,183.7 L450.03,195.08 L454.8,187.92 L459.56,180.87 L464.33,187.32 L468.74,187.56 L473.5,188.4 L478.27,179.48 L482.8,178.51 L487.55,178.14 L492.31,182.49 L497.08,186.8 L501.6,176.7 L506.37,174.05 L511.02,166.95 L515.54,175.26 L520.31,181.66 L525.07,178.63 L529.84,176.27 L534.37,192.24 L539.13,163.46 L543.78,180.68 L548.54,188.28 L553.31,193.78 L557.83,191.17 L562.36,180.99 L567.13,188.73 L571.89,184.46 L576.66,187.92 L581.42,190.69 L586.19,190.69 L590.71,191.57 L595.36,176.96 L600.13,189.73 L604.89,196.96 L609.42,197.42 L614.06,184.49 L618.83,192.11 L623.36,185.47 L628.12,195.93 L633.12,192.14 L637.65,181.29 L642.42,177.31 L646.94,182.28 L651.59,166.55 L656.36,171.04 L661.12,181.29 L665.65,192.54 L670.41,175.02 L675.18,174.19 L679.7,183.94 L684.35,183.94 L689.12,185.51 L693.88,188.52 L698.41,193.95 L703.39,194.39 L707.91,179.48 L712.68,174.8 L717.45,191.54 L722.21,195.8 L726.62,184.71 L731.38,190.69 L736.15,196.83 L740.91,186.11 L745.44,167 L750.21,171.53 L754.85,165.35 L759.38,188.62 L764.14,171.14 L768.91,179.48 L773.67,189.67 L778.44,187.17 L782.97,191.09 L787.73,181.85 L792.26,193.71 L796.91,181.91 L801.67,186.63 L806.44,184.66 L811.2,179.85 L815.73,190.76 L820.49,187.54 L825.26,188.43 L829.9,180.96 L834.67,183.94 L839.2,190.46 L843.96,184.79 L848.49,191.62 L853.25,174.95 L858.02,178.27 L862.78,182.49 L867.19,191.94 L871.96,184.9 L876.72,178.59 L881.49,182.73" fill="none" stroke="#9fcac3" stroke-width="2" stroke-linejoin="miter" stroke-miterlimit="4"/>
<path d="M50.62,117.61 L56.24,125.56 L61.02,120.58 L65.8,121.24 L70.58,124.87 L74.76,129.53 L79.54,123.05 L84.32,118.43 L89.1,119.67 L93.88,120.3 L98.06,87.18 L102.49,123.61 L107.63,117.06 L112.41,123.9 L116.59,124.43 L121.37,122.09 L126.39,116.63 L131.17,127.18 L136.31,126.44 L145.27,113.09 L149.81,128.32 L154.23,124.87 L159.01,116.4 L163.79,115.39 L169.17,120.64 L173.35,121.03 L177.54,118.46 L182.67,111.73 L187.1,118.83 L191.88,118.61 L196.66,128.24 L201.44,122.45 L206.22,120.88 L211,118.82 L215.78,116.84 L220.56,117.61 L225.34,119.59 L229.88,118.7 L234.9,121.85 L243.86,134.52 L248.64,126.44 L253.42,125.96 L258.2,125.72 L262.98,125.47 L267.76,118.82 L271.85,111.48 L276.39,125.47 L281.17,126.21 L285.95,123.05 L290.37,119.73 L295.16,122.76 L299.94,119.17 L304.72,121.27 L309.26,118.01 L314.04,120.88 L318.82,124.01 L323.36,121.24 L328.14,124.09 L332.8,118.76 L337.94,119.18 L342.72,120.64 L347.5,121.6 L352.28,122.09 L357.06,122.09 L361.24,123.21 L365.66,121.52 L370.2,124.02 L374.98,125.85 L379.76,124.02 L384.55,118.58 L389.09,118.58 L393.87,121.24 L398.65,123.05 L403.43,124.63 L408.21,125.35 L412.63,122.09 L417.41,122.09 L422.19,121.4 L426.97,122.09 L431.15,123.3 L435.93,124.66 L440.71,122.94 L445.49,125.23 L450.27,127.04 L454.46,125.11 L459.24,117.69 L464.02,123.47 L468.8,120.64 L473.58,123.66 L478.36,123.66 L483.14,120.03 L487.23,117.87 L492.01,119.43 L496.79,122.01 L501.57,121.6 L506.11,118.82 L510.89,115.66 L515.67,119.67 L520.45,124.19 L524.87,121.85 L529.41,121.41 L534.43,122.99 L538.97,117.01 L543.75,112.85 L548.17,123.03 L552.95,115.54 L557.73,123.6 L562.51,122.81 L567.29,121.24 L571.6,111.78 L576.62,113.35 L581.4,107.94 L586.18,105.88 L590.12,56.64 L595.5,61.13 L599.92,121.92 L604.46,108.82 L609.24,120.03 L614.02,124.45 L618.8,122.09 L623.58,120.62 L628.6,125.28 L632.78,103.63 L637.56,121.24 L642.34,126.58 L647.12,124.26 L651.9,120.53 L656.68,121.24 L661.47,121.24 L665.65,121.95 L670.43,118.32 L675.21,121.85 L679.75,129.31 L684.17,121.85 L688.95,113.68 L693.73,116.4 L698.51,117.01 L703.22,124.84 L708,124.26 L712.42,123.99 L717.2,130.55 L721.98,126.68 L726.76,115.8 L731.54,102.87 L735.96,123.1 L740.74,118.78 L745.29,120.03 L750.07,122.02 L754.85,121.42 L759.63,123.26 L764.17,118.49 L768.95,120.18 L773.37,99.4 L778.15,127.3 L782.93,124.26 L787.71,121.6 L792.25,111.93 L797.27,114.59 L802.05,120.82 L806.23,119.55 L811.01,121.93 L815.79,109.82 L820.34,128.48 L825.12,127.29 L829.9,124.87 L834.32,120.55 L839.1,127.83 L843.88,126.68 L848.42,121.52 L853.2,125.38 L857.62,122.46 L862.4,125.24 L866.94,122.46 L871.72,125.41 L876.5,121.64 L881.28,124.26" fill="none" stroke="#fffc3f" stroke-width="3" stroke-linejoin="miter" stroke-miterlimit="4"/>
<path d="M43.5,34H49.5V243H43.5" stroke="#e4e4e4" stroke-width="1" fill="none"/>
<path d="M49.5,249V243H891V249" stroke="#e4e4e4" stroke-width="1" fill="none"/>
<g fill="#fff" font-size="9.7" text-anchor="end" stroke="#fff" stroke-width="0.2">
<text x="41.4" y="246.45">0.0</text>
<text x="41.4" y="223.9">1.0</text>
<text x="41.4" y="201.36">2.0</text>
<text x="41.4" y="178.81">3.0</text>
<text x="41.4" y="156.27">4.0</text>
<text x="41.4" y="133.72">5.0</text>
<text x="41.4" y="111.17">6.0</text>
<text x="41.4" y="88.63">7.0</text>
<text x="41.4" y="66.08">8.0</text>
<text x="41.4" y="43.54">9.0</text>
</g>
<g fill="#fff" font-size="9.65" text-anchor="middle" stroke="#fff" stroke-width="0.2">
<text x="104.06" y="254.6">09:59:30</text>
<text x="174.18" y="254.6">09:59:45</text>
<text x="244.31" y="254.6">10:00:00</text>
<text x="314.43" y="254.6">10:00:15</text>
<text x="384.56" y="254.6">10:00:30</text>
<text x="454.68" y="254.6">10:00:45</text>
<text x="524.81" y="254.6">10:01:00</text>
<text x="594.93" y="254.6">10:01:15</text>
<text x="665.06" y="254.6">10:01:30</text>
<text x="735.18" y="254.6">10:01:45</text>
<text x="805.31" y="254.6">10:02:00</text>
<text x="875.43" y="254.6">10:02:15</text>
</g>
<text x="472.85" y="281.6" fill="#fff" stroke="#fff" stroke-width="0.3" font-size="16" text-anchor="middle">Time</text>
<text transform="translate(15,191) rotate(-90)" fill="#fff" stroke="#fff" stroke-width="0.3" font-size="16" text-anchor="middle">Latency (ms)</text>
<text x="455" y="23.5" fill="#fff" stroke="#fff" stroke-width="0.35" font-size="23" text-anchor="middle">Latency (Aggregate)</text>
<rect x="653.85" y="4.85" width="246.65" height="24.65" fill="#000" stroke="#f4f4f4" stroke-width="1"/>
<path d="M666,16.3H683.8" stroke="#a8d4e6" stroke-width="2"/>
<text x="687.9" y="21.8" fill="#fff" stroke="#fff" stroke-width="0.3" font-size="15.2" textLength="25.2" lengthAdjust="spacingAndGlyphs">Min</text>
<path d="M748,16.3H765.8" stroke="#fffc3f" stroke-width="3"/>
<text x="769.9" y="21.8" fill="#fff" stroke="#fff" stroke-width="0.3" font-size="15.2" textLength="25.8" lengthAdjust="spacingAndGlyphs">Avg</text>
<path d="M830,16.3H847.8" stroke="#f00018" stroke-width="2"/>
<text x="851.9" y="21.8" fill="#8a8a8a" stroke="#8a8a8a" stroke-width="0.3" font-size="15.2" textLength="28.3" lengthAdjust="spacingAndGlyphs">Max</text>
</svg></div>
<div class="abs" style="left:0;top:291.7px"><svg width="923" height="291.7" viewBox="0 0 923 291.7" style="display:block;font-family:'Liberation Sans', Arial, Helvetica, sans-serif">
<rect width="923" height="291.7" fill="#000"/>
<path d="M49.5,222.38H891M49.5,201.76H891M49.5,181.14H891M49.5,160.52H891M49.5,139.9H891M49.5,119.28H891M49.5,98.66H891M49.5,78.04H891M49.5,57.42H891M49.5,36.8H891M104.5,33V243M174.5,33V243M244.5,33V243M314.5,33V243M384.5,33V243M454.5,33V243M524.5,33V243M594.5,33V243M665.5,33V243M735.5,33V243M805.5,33V243M875.5,33V243" stroke="rgba(255,255,255,0.245)" stroke-width="1" fill="none"/>
<path d="M50.51,243 L881.29,243" fill="none" stroke="#a8d4e6" stroke-width="2" stroke-linejoin="miter" stroke-miterlimit="4"/>
<path d="M50.51,36.79 L55.87,36.55 L60.64,34.74 L65.4,36.31 L70.17,36.55 L74.93,37.17 L79.7,37.17 L84.22,35.34 L88.99,35.34 L93.75,35.95 L98.4,58.79 L102.93,36.55 L107.69,36.31 L112.46,35.58 L117.22,34.74 L121.75,35.95 L126.52,44.98 L131.16,35.1 L135.93,36.79 L140.45,37.17 L145.22,40.37 L149.75,36.79 L154.51,36.31 L159.16,34.38 L163.92,39.35 L168.45,39.73 L173.21,36.31 L177.98,37.81 L182.74,40.63 L187.27,37.17 L192.04,34.38 L196.68,36.31 L201.45,36.55 L205.98,36.79 L210.74,34.74 L215.51,35.95 L220.27,36.31 L224.8,35.34 L229.56,36.79 L234.21,37.17 L238.97,34.38 L243.5,36.79 L248.27,36.79 L253.03,36.55 L257.8,36.31 L262.32,34.38 L267.09,36.31 L271.84,37.43 L276.61,36.79 L281.37,36.31 L290.9,35.95 L299.84,34.38 L304.6,35.95 L309.37,34.86 L314.13,35.34 L318.9,36.31 L333.19,36.31 L337.96,35.34 L342.37,34.38 L346.89,36.55 L407.65,36.55 L412.42,34.38 L417.18,37.17 L421.71,35.34 L426.47,37.17 L431.24,36.79 L440.41,36.31 L445.18,34.38 L449.94,35.95 L454.71,36.31 L459.47,34.14 L464,36.55 L501.51,36.55 L506.28,35.58 L510.8,34.38 L515.57,36.31 L525.34,36.55 L539.04,36.31 L543.8,38.45 L548.57,36.31 L553.33,35.34 L557.74,34.74 L562.51,36.31 L567.27,34.74 L571.8,36.79 L576.56,44.08 L581.33,37.81 L585.86,39.73 L590.62,61.99 L595.27,40.37 L600.03,36.31 L604.8,43.31 L609.32,37.17 L614.09,34.38 L618.86,35.95 L623.62,37.17 L628.15,36.55 L632.91,42.03 L637.68,36.55 L642.09,36.79 L656.38,36.31 L661.15,34.14 L665.67,37.17 L670.68,36.55 L684.38,36.31 L689.14,39.73 L693.67,35.1 L698.43,35.58 L703.19,36.31 L712.72,36.55 L717.24,42.8 L722.01,34.38 L726.77,39.09 L731.18,35.1 L735.95,36.55 L755.01,36.55 L759.77,35.34 L764.3,35.58 L769.07,37.56 L773.47,39.35 L778.24,35.1 L782.77,36.79 L787.53,34.38 L792.3,35.95 L796.7,35.1 L801.47,37.81 L806.23,35.1 L811,36.79 L815.76,38.45 L820.29,34.14 L825.06,37.17 L829.46,36.79 L839,35.95 L843.76,37.56 L848.29,35.58 L853.05,36.31 L862.23,36.55 L866.99,37.17 L871.76,36.55 L876.52,35.58 L881.29,36.55" fill="none" stroke="#fffc3f" stroke-width="3" stroke-linejoin="round" stroke-miterlimit="4"/>
<path d="M50.51,36.79 L55.87,36.55 L60.64,34.74 L65.4,36.31 L70.17,36.55 L74.93,37.15 L79.7,37.15 L84.22,35.34 L88.99,35.34 L93.75,35.95 L98.4,57.54 L102.93,36.55 L107.69,36.31 L112.46,35.58 L117.22,34.74 L121.75,35.95 L126.52,44.51 L131.16,35.1 L135.93,36.79 L140.45,37.15 L145.22,40.17 L149.75,36.79 L154.51,36.31 L159.16,34.38 L163.92,39.2 L168.45,39.57 L173.21,36.31 L177.98,37.76 L182.74,40.41 L187.27,37.15 L192.04,34.38 L196.68,36.31 L201.45,36.55 L205.98,36.79 L210.74,34.74 L215.51,35.95 L220.27,36.31 L224.8,35.34 L229.56,36.79 L234.21,37.15 L238.97,34.38 L243.5,36.79 L248.27,36.79 L253.03,36.55 L257.8,36.31 L262.32,34.38 L267.09,36.31 L271.84,37.39 L276.61,36.79 L281.37,36.31 L290.9,35.95 L299.84,34.38 L304.6,35.95 L309.37,34.86 L314.13,35.34 L318.9,36.31 L333.19,36.31 L337.96,35.34 L342.37,34.38 L346.89,36.55 L407.65,36.55 L412.42,34.38 L417.18,37.15 L421.71,35.34 L426.47,37.15 L431.24,36.79 L440.41,36.31 L445.18,34.38 L449.94,35.95 L454.71,36.31 L459.47,34.14 L464,36.55 L501.51,36.55 L506.28,35.58 L510.8,34.38 L515.57,36.31 L525.34,36.55 L539.04,36.31 L543.8,38.36 L548.57,36.31 L553.33,35.34 L557.74,34.74 L562.51,36.31 L567.27,34.74 L571.8,36.79 L576.56,43.67 L581.33,37.76 L585.86,39.57 L590.62,60.56 L595.27,40.17 L600.03,36.31 L604.8,42.94 L609.32,37.15 L614.09,34.38 L618.86,35.95 L623.62,37.15 L628.15,36.55 L632.91,41.74 L637.68,36.55 L642.09,36.79 L656.38,36.31 L661.15,34.14 L665.67,37.15 L670.68,36.55 L684.38,36.31 L689.14,39.57 L693.67,35.1 L698.43,35.58 L703.19,36.31 L712.72,36.55 L717.24,42.46 L722.01,34.38 L726.77,38.96 L731.18,35.1 L735.95,36.55 L755.01,36.55 L759.77,35.34 L764.3,35.58 L769.07,37.51 L773.47,39.2 L778.24,35.1 L782.77,36.79 L787.53,34.38 L792.3,35.95 L796.7,35.1 L801.47,37.76 L806.23,35.1 L811,36.79 L815.76,38.36 L820.29,34.14 L825.06,37.15 L829.46,36.79 L839,35.95 L843.76,37.51 L848.29,35.58 L853.05,36.31 L862.23,36.55 L866.99,37.15 L871.76,36.55 L876.52,35.58 L881.29,36.55" fill="none" stroke="#ff1712" stroke-width="2.1" stroke-linejoin="round" stroke-miterlimit="4"/>
<path d="M43.5,34H49.5V243H43.5" stroke="#e4e4e4" stroke-width="1" fill="none"/>
<path d="M49.5,249V243H891V249" stroke="#e4e4e4" stroke-width="1" fill="none"/>
<g fill="#fff" font-size="9.7" text-anchor="end" stroke="#fff" stroke-width="0.2">
<text x="41.4" y="246.45">0.0</text>
<text x="41.4" y="225.83">50</text>
<text x="41.4" y="205.21">100</text>
<text x="41.4" y="184.59">150</text>
<text x="41.4" y="163.97">200</text>
<text x="41.4" y="143.35">250</text>
<text x="41.4" y="122.73">300</text>
<text x="41.4" y="102.11">350</text>
<text x="41.4" y="81.49">400</text>
<text x="41.4" y="60.87">450</text>
<text x="41.4" y="40.25">500</text>
</g>
<g fill="#fff" font-size="9.65" text-anchor="middle" stroke="#fff" stroke-width="0.2">
<text x="104.06" y="254.6">09:59:30</text>
<text x="174.18" y="254.6">09:59:45</text>
<text x="244.31" y="254.6">10:00:00</text>
<text x="314.43" y="254.6">10:00:15</text>
<text x="384.56" y="254.6">10:00:30</text>
<text x="454.68" y="254.6">10:00:45</text>
<text x="524.81" y="254.6">10:01:00</text>
<text x="594.93" y="254.6">10:01:15</text>
<text x="665.06" y="254.6">10:01:30</text>
<text x="735.18" y="254.6">10:01:45</text>
<text x="805.31" y="254.6">10:02:00</text>
<text x="875.43" y="254.6">10:02:15</text>
</g>
<text x="472.85" y="281.6" fill="#fff" stroke="#fff" stroke-width="0.3" font-size="16" text-anchor="middle">Time</text>
<text transform="translate(15,191) rotate(-90)" fill="#fff" stroke="#fff" stroke-width="0.3" font-size="16" text-anchor="middle">Count</text>
<text x="455" y="23.5" fill="#fff" stroke="#fff" stroke-width="0.35" font-size="23" text-anchor="middle">Throughput (Aggregate)</text>
<rect x="653.85" y="4.85" width="246.65" height="24.65" fill="#000" stroke="#f4f4f4" stroke-width="1"/>
<path d="M666,16.3H683.8" stroke="#a8d4e6" stroke-width="2"/>
<text x="687.9" y="21.8" fill="#fff" stroke="#fff" stroke-width="0.3" font-size="15.2" textLength="40.6" lengthAdjust="spacingAndGlyphs">Failed</text>
<path d="M748,16.3H765.8" stroke="#fffc3f" stroke-width="3"/>
<text x="769.9" y="21.8" fill="#fff" stroke="#fff" stroke-width="0.3" font-size="15.2" textLength="59.6" lengthAdjust="spacingAndGlyphs">Success</text>
<path d="M830,16.3H847.8" stroke="#f00018" stroke-width="2"/>
<text x="851.9" y="21.8" fill="#fff" stroke="#fff" stroke-width="0.3" font-size="15.2" textLength="33.6" lengthAdjust="spacingAndGlyphs">Total</text>
</svg></div>
</div>
</body></html>
